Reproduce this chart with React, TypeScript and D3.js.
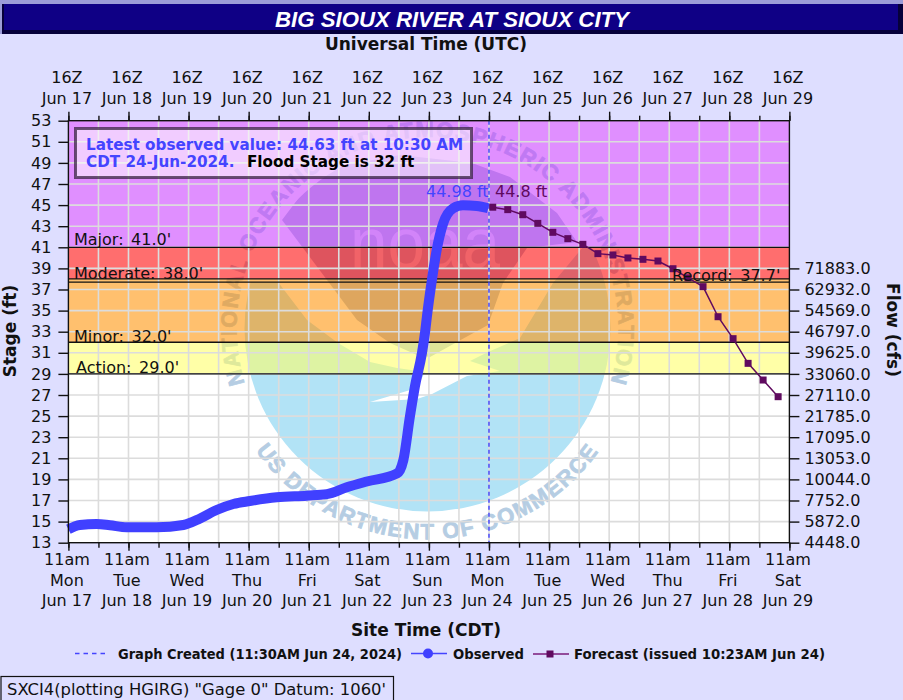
import React, { useEffect, useRef } from "react";
import { select, scaleLinear, axisLeft, axisRight, axisTop, axisBottom, line, curveMonotoneX, symbol, symbolSquare, range } from "d3";

const WIDTH = 903;
const HEIGHT = 700;
const FONT = "'DejaVu Sans', Verdana, sans-serif";

// hours after 11am CDT Jun 17
const obsHours = [0, 4.6, 11.3, 16.6, 23.3, 35.3, 45.9, 52.6, 59.2, 65.9, 72.5, 83.2, 95.2, 103.2, 111.2, 119.2, 131.1, 132.4, 133.8, 136.4, 138.4, 141.2, 142.6, 143.2, 145.2, 147.1, 149.7, 153.7, 157.6, 163.1, 167.7];
const obsStage = [14.27, 14.68, 14.77, 14.65, 14.46, 14.46, 14.68, 15.3, 16.1, 16.67, 16.95, 17.3, 17.46, 17.6, 18.25, 18.8, 19.55, 19.85, 20.84, 24.94, 27.8, 30.95, 33.2, 34.42, 37.9, 40.74, 43.27, 44.7, 44.98, 44.92, 44.7];
const fcstHours = [169.5, 175.5, 181.5, 187.5, 193.5, 199.5, 205.5, 211.5, 217.5, 223.5, 229.5, 235.5, 241.5, 247.5, 253.5, 259.5, 265.5, 271.5, 277.5, 283.5];
const fcstStage = [44.8, 44.57, 44.09, 43.27, 42.42, 41.82, 41.28, 40.4, 40.27, 39.99, 39.86, 39.7, 38.97, 38.1, 37.27, 34.42, 32.34, 30.0, 28.42, 26.84];

const stageTicks = [53, 51, 49, 47, 45, 43, 41, 39, 37, 35, 33, 31, 29, 27, 25, 23, 21, 19, 17, 15, 13];
const flowTicks = [39, 37, 35, 33, 31, 29, 27, 25, 23, 21, 19, 17, 15, 13];
const flowLabels = ["71883.0", "62932.0", "54569.0", "46797.0", "39625.0", "33060.0", "27110.0", "21785.0", "17095.0", "13053.0", "10044.0", "7752.0", "5872.0", "4448.0"];

const dayHours = [0, 24, 48, 72, 96, 120, 144, 168, 192, 216, 240, 264, 288];
const dayDates = ["Jun 17", "Jun 18", "Jun 19", "Jun 20", "Jun 21", "Jun 22", "Jun 23", "Jun 24", "Jun 25", "Jun 26", "Jun 27", "Jun 28", "Jun 29"];
const dayNames = ["Mon", "Tue", "Wed", "Thu", "Fri", "Sat", "Sun", "Mon", "Tue", "Wed", "Thu", "Fri", "Sat"];

const levelNames = ["Action", "Minor", "Moderate", "Record", "Major"];
const levelStage = [29, 32, 38, 37.7, 41];
const bandFrom = [29, 32, 38, 41];
const bandTo = [32, 38, 41, 53];
const bandColors = ["rgba(255,255,100,.57)", "rgba(255,144,0,.57)", "rgba(255,0,0,.57)", "rgba(200,58,255,.57)"];

const createdHour = 168;

// NOAA watermark behind the bands, plain pixels since it is a picture not data
const LOGO_X = 427.5;
const LOGO_Y = 328.4;
const LOGO_R = 183;
const logoLight = [[220, 282], [278, 282], [307, 320], [338, 343], [370, 362], [397, 368], [425, 372], [417, 388], [370, 402], [417, 399], [432, 394], [467, 376], [500, 371], [470, 361], [488, 352], [520, 338], [553, 283], [583, 247], [650, 247], [650, 530], [220, 530]];
const logoDark = [[282, 220], [310, 183], [345, 165], [400, 155], [472, 163], [510, 177], [557, 213], [577, 242], [527, 248], [503, 283], [488, 325], [457, 342], [430, 357], [417, 355], [390, 343], [357, 320]];

const App: React.FC = () => {
  const svgRef = useRef<SVGSVGElement>(null);

  useEffect(() => {
    const svg = select(svgRef.current);
    svg.selectAll("*").remove();
    svg.attr("font-family", FONT).attr("font-size", 16).attr("fill", "#111");

    const x = scaleLinear().domain([0, 288]).range([68.4, 789.4]);
    const y = scaleLinear().domain([13, 53]).range([542.7, 120.7]);

    svg.append("rect").attr("width", WIDTH).attr("height", HEIGHT).attr("fill", "#dedeff");

    // title bar
    svg.append("rect").attr("width", WIDTH).attr("height", 34).attr("fill", "#9c9cd8");
    svg.append("rect").attr("x", 2).attr("y", 4).attr("width", WIDTH - 2).attr("height", 30).attr("fill", "#06003a");
    svg.append("rect").attr("x", 4).attr("y", 4).attr("width", WIDTH - 9).attr("height", 26).attr("fill", "#0f0085");
    svg.append("text").attr("x", 452).attr("y", 26.5).attr("text-anchor", "middle")
      .attr("font-family", "'Liberation Sans', Arial, sans-serif").attr("font-weight", "bold").attr("font-style", "italic")
      .attr("font-size", 22.2).attr("fill", "#fff").text("BIG SIOUX RIVER AT SIOUX CITY");

    // plot background and watermark
    svg.append("rect").attr("x", x(0)).attr("y", y(53)).attr("width", x(288) - x(0)).attr("height", y(13) - y(53)).attr("fill", "#fff");

    const defs = svg.append("defs");
    defs.append("clipPath").attr("id", "logoClip").append("circle").attr("cx", LOGO_X).attr("cy", LOGO_Y).attr("r", LOGO_R);
    defs.append("path").attr("id", "ringTop").attr("d", `M ${LOGO_X - 191 * 0.82} ${LOGO_Y + 191 * 0.57} A 191 191 0 1 1 ${LOGO_X + 191 * 0.82} ${LOGO_Y + 191 * 0.57}`);
    defs.append("path").attr("id", "ringBottom").attr("d", `M ${LOGO_X - 211 * 0.94} ${LOGO_Y + 211 * 0.34} A 211 211 0 0 0 ${LOGO_X + 211 * 0.94} ${LOGO_Y + 211 * 0.34}`);

    const logo = svg.append("g");
    const poly = line();
    const disc = logo.append("g").attr("clip-path", "url(#logoClip)");
    disc.append("path").attr("d", poly(logoLight as [number, number][]) + "Z").attr("fill", "#b2e3f6");
    disc.append("path").attr("d", poly(logoDark as [number, number][]) + "Z").attr("fill", "#b2c3da");
    logo.append("text").attr("x", 350).attr("y", 268).attr("font-family", "'Liberation Sans', sans-serif")
      .attr("font-size", 72).attr("textLength", 150).attr("lengthAdjust", "spacingAndGlyphs").attr("fill", "#dfe6f2").text("noaa");
    const ring = logo.append("g").attr("font-family", "'Liberation Sans', sans-serif").attr("font-weight", "bold").attr("font-size", 22)
      .attr("fill", "#b5cde3").attr("stroke", "#b5cde3").attr("stroke-width", 0.8);
    ring.append("text").attr("letter-spacing", 1.7).append("textPath").attr("href", "#ringTop").attr("startOffset", "50%").attr("text-anchor", "middle")
      .text("NATIONAL OCEANIC AND ATMOSPHERIC ADMINISTRATION");
    ring.append("text").attr("letter-spacing", 1.6).append("textPath").attr("href", "#ringBottom").attr("startOffset", "50%").attr("text-anchor", "middle")
      .text("US DEPARTMENT OF COMMERCE");

    // flood category bands
    bandFrom.forEach((from, i) => {
      svg.append("rect").attr("x", x(0)).attr("y", y(bandTo[i])).attr("width", x(288) - x(0))
        .attr("height", y(from) - y(bandTo[i])).attr("fill", bandColors[i]);
    });

    // grid
    const halfDays = range(0, 289, 12);
    const grid = svg.append("g").attr("stroke", "#dcdcdc").attr("stroke-width", 1.6);
    stageTicks.slice(1, -1).forEach((s) => {
      grid.append("line").attr("x1", x(0)).attr("x2", x(288)).attr("y1", y(s)).attr("y2", y(s));
    });
    halfDays.slice(1, -1).forEach((h) => {
      grid.append("line").attr("x1", x(h)).attr("x2", x(h)).attr("y1", y(53)).attr("y2", y(13));
    });

    // category lines
    levelStage.forEach((s) => {
      svg.append("line").attr("x1", x(0)).attr("x2", x(288)).attr("y1", y(s)).attr("y2", y(s)).attr("stroke", "#111").attr("stroke-width", 1.3);
    });

    // graph created marker
    svg.append("line").attr("x1", x(createdHour)).attr("x2", x(createdHour)).attr("y1", y(53)).attr("y2", y(13))
      .attr("stroke", "#3333ff").attr("stroke-width", 1.3).attr("stroke-dasharray", "4 3");

    // annotation box
    svg.append("rect").attr("x", 75.5).attr("y", 128.5).attr("width", 396).attr("height", 49)
      .attr("fill", "rgba(255,255,255,.55)").attr("stroke", "rgba(50,30,60,.72)").attr("stroke-width", 3);
    const note = svg.append("g").attr("font-weight", "bold").attr("font-size", 15.2);
    note.append("text").attr("x", 86).attr("y", 150).attr("fill", "#4444ff").text("Latest observed value: 44.63 ft at 10:30 AM");
    note.append("text").attr("x", 86).attr("y", 167).attr("fill", "#4444ff").text("CDT 24-Jun-2024.");
    note.append("text").attr("x", 247).attr("y", 167).attr("fill", "#000").text("Flood Stage is 32 ft");

    // observed and forecast series
    const obsPath = line<number>().x((h) => x(h)).y((_, i) => y(obsStage[i])).curve(curveMonotoneX);
    svg.append("path").attr("d", obsPath(obsHours)).attr("fill", "none").attr("stroke", "#4040ff")
      .attr("stroke-width", 10).attr("stroke-linejoin", "round");
    const fcstPath = line<number>().x((h) => x(h)).y((_, i) => y(fcstStage[i]));
    svg.append("path").attr("d", fcstPath(fcstHours)).attr("fill", "none").attr("stroke", "#5f0a5f").attr("stroke-width", 1.5);
    svg.append("g").selectAll("path").data(fcstHours).join("path")
      .attr("d", symbol(symbolSquare, 49))
      .attr("transform", (h, i) => `translate(${x(h)},${y(fcstStage[i])})`).attr("fill", "#5f0a5f");

    // frame
    svg.append("rect").attr("x", x(0)).attr("y", y(53)).attr("width", x(288) - x(0)).attr("height", y(13) - y(53))
      .attr("fill", "none").attr("stroke", "#111").attr("stroke-width", 1.4);

    // category labels
    const labelX = [76, 74, 74, 672, 74];
    const labelY = [373, 341.5, 278.5, 281, 245];
    levelNames.forEach((name, i) => {
      svg.append("text").attr("x", labelX[i]).attr("y", labelY[i]).attr("word-spacing", 2.5).text(`${name}: ${levelStage[i].toFixed(1)}'`);
    });

    // peak labels
    svg.append("text").attr("x", 426).attr("y", 197).attr("fill", "#4444ff").text("44.98 ft");
    svg.append("text").attr("x", 495).attr("y", 197).attr("fill", "#5f0a5f").text("44.8 ft");

    // axes
    const styleAxis = (g: any) => {
      g.select(".domain").remove();
      g.attr("font-family", FONT).attr("font-size", 16);
      g.selectAll("line").attr("stroke", "#111").attr("stroke-width", 1.4);
      g.selectAll("text").attr("fill", "#111");
    };
    svg.append("g").attr("transform", `translate(${x(0)},0)`)
      .call(axisLeft(y).tickValues(stageTicks).tickSize(10).tickPadding(7)).call(styleAxis);
    svg.append("g").attr("transform", `translate(${x(288)},0)`)
      .call(axisRight(y).tickValues(flowTicks).tickSize(10).tickPadding(5).tickFormat((_, i) => flowLabels[i])).call(styleAxis);
    svg.append("g").attr("transform", `translate(0,${y(53)})`)
      .call(axisTop(x).tickValues(dayHours).tickSize(9).tickFormat(() => "")).call(styleAxis);
    svg.append("g").attr("transform", `translate(0,${y(53)})`)
      .call(axisTop(x).tickValues(halfDays).tickSize(5).tickFormat(() => "")).call(styleAxis);
    svg.append("g").attr("transform", `translate(0,${y(13)})`)
      .call(axisBottom(x).tickValues(dayHours).tickSize(8).tickFormat(() => "")).call(styleAxis);
    svg.append("g").attr("transform", `translate(0,${y(13)})`)
      .call(axisBottom(x).tickValues(halfDays).tickSize(5).tickFormat(() => "")).call(styleAxis);

    // stacked time labels
    dayHours.forEach((h, i) => {
      const cx = x(h) - 1.5;
      const t = svg.append("g").attr("text-anchor", "middle");
      t.append("text").attr("x", cx).attr("y", 83).text("16Z");
      t.append("text").attr("x", cx).attr("y", 104).text(dayDates[i]);
      t.append("text").attr("x", cx).attr("y", 565).text("11am");
      t.append("text").attr("x", cx).attr("y", 585.5).text(dayNames[i]);
      t.append("text").attr("x", cx).attr("y", 606).text(dayDates[i]);
    });

    // axis titles
    const titles = svg.append("g").attr("font-weight", "bold").attr("font-size", 17).attr("text-anchor", "middle");
    titles.append("text").attr("x", 426).attr("y", 50).text("Universal Time (UTC)");
    titles.append("text").attr("x", 426).attr("y", 636).text("Site Time (CDT)");
    titles.append("text").attr("transform", "translate(16,331) rotate(-90)").text("Stage (ft)");
    titles.append("text").attr("transform", "translate(887,330) rotate(90)").text("Flow (cfs)");

    // legend
    const legend = svg.append("g").attr("font-family", "'DejaVu Sans Condensed', 'DejaVu Sans', sans-serif").attr("font-weight", "bold").attr("font-size", 14.4);
    legend.append("line").attr("x1", 75).attr("x2", 108).attr("y1", 653.5).attr("y2", 653.5).attr("stroke", "#4444ff").attr("stroke-width", 1.3).attr("stroke-dasharray", "4.5 4");
    legend.append("text").attr("x", 118).attr("y", 659).attr("textLength", 284).attr("lengthAdjust", "spacingAndGlyphs").text("Graph Created (11:30AM Jun 24, 2024)");
    legend.append("line").attr("x1", 411).attr("x2", 447).attr("y1", 653.5).attr("y2", 653.5).attr("stroke", "#4444ff").attr("stroke-width", 1.3);
    legend.append("circle").attr("cx", 428).attr("cy", 653.5).attr("r", 5).attr("fill", "#4040ff");
    legend.append("text").attr("x", 453).attr("y", 659).attr("textLength", 71).attr("lengthAdjust", "spacingAndGlyphs").text("Observed");
    legend.append("line").attr("x1", 533).attr("x2", 569).attr("y1", 654).attr("y2", 654).attr("stroke", "#7a1a7a").attr("stroke-width", 1.3);
    legend.append("rect").attr("x", 546.5).attr("y", 650.5).attr("width", 7).attr("height", 7).attr("fill", "#5f0a5f");
    legend.append("text").attr("x", 574).attr("y", 659).attr("textLength", 251).attr("lengthAdjust", "spacingAndGlyphs").text("Forecast (issued 10:23AM Jun 24)");

    // gage box
    svg.append("rect").attr("x", 1).attr("y", 676.5).attr("width", 392.5).attr("height", 30).attr("fill", "none").attr("stroke", "#111").attr("stroke-width", 1.2);
    svg.append("text").attr("x", 7).attr("y", 695).attr("font-size", 16.4).text(`SXCI4(plotting HGIRG) "Gage 0" Datum: 1060'`);
  }, []);

  return <svg ref={svgRef} width={WIDTH} height={HEIGHT} style={{ position: "absolute", left: 0, top: 0 }} />;
};

export default App;
